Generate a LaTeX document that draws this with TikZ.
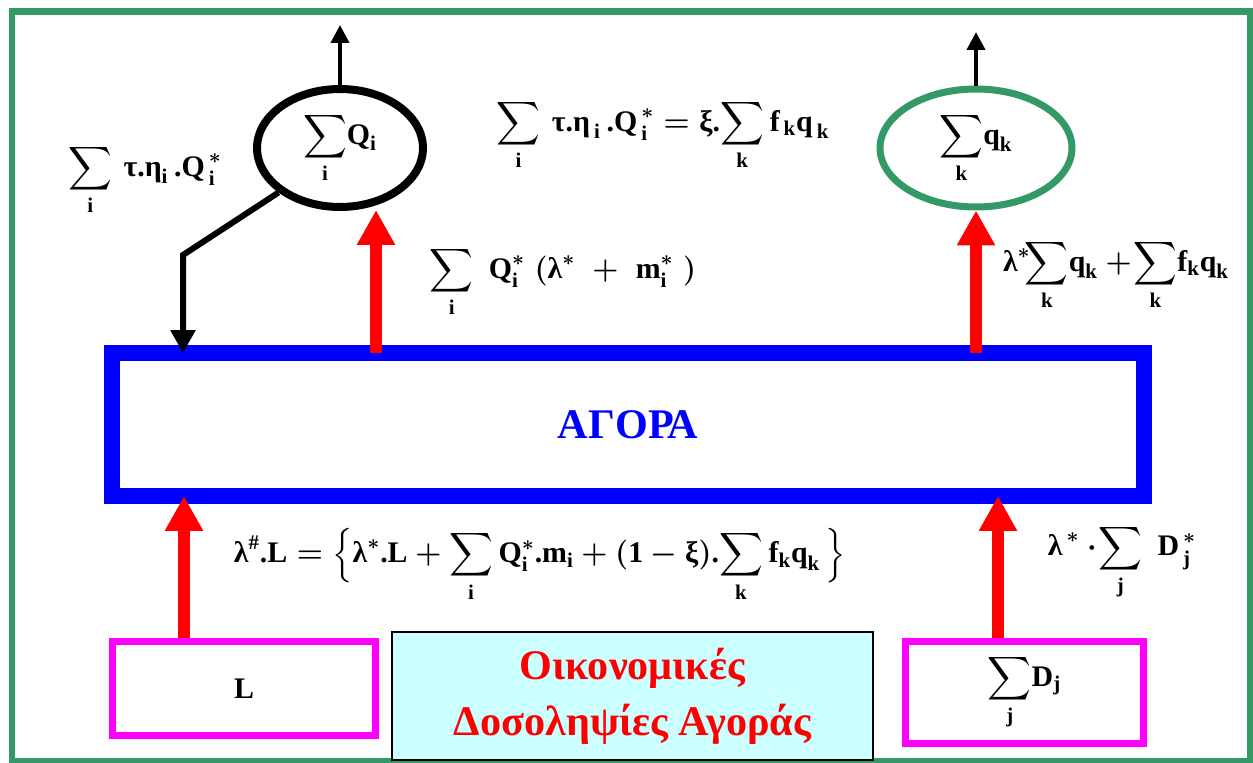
\documentclass[tikz,border=0pt]{standalone}
\usepackage{fix-cm}
\usepackage{amsmath}
\usepackage{fontspec}
\setmainfont{Liberation Serif}
\usetikzlibrary{arrows.meta,positioning,shapes.geometric,calc}
\definecolor{frame}{HTML}{339966}
\definecolor{market}{HTML}{0000FF}
\definecolor{source}{HTML}{FF00FF}
\definecolor{flow}{HTML}{FF0000}
\definecolor{panel}{HTML}{CCFFFF}
\newcommand{\bt}[1]{\text{#1}}

\begin{document}
\begin{tikzpicture}[x=0.02cm, y=-0.02cm,
  every node/.style={font=\fontsize{17}{20}\selectfont\bfseries\boldmath},
  marketbox/.style={draw=market, line width=0.32cm, outer sep=0pt, minimum width=20.64cm, minimum height=2.86cm},
  sumnode/.style={ellipse, line width=0.16cm, inner sep=0pt, minimum width=3.32cm, minimum height=2.36cm},
  sourcebox/.style={draw=source, line width=0.14cm, inner sep=0pt},
  flowarrow/.style={draw=flow, line width=0.24cm, -{Triangle[width=0.72cm,length=0.7cm]}},
  outarrow/.style={draw=black, line width=0.08cm, -{Triangle[width=0.36cm,length=0.36cm]}},
  taxarrow/.style={draw=black, line width=0.12cm, -{Triangle[width=0.48cm,length=0.46cm]}},
  formula/.style={inner sep=1pt}
]
\useasboundingbox (0,0) rectangle (1253,763);

% outer frame
\draw[draw=frame, line width=0.14cm] (12,12) rectangle (1250,761);

% market in the middle
\node[marketbox, font=\fontsize{24}{28}\selectfont\bfseries, text=market] (agora) at (628,424.5) {ΑΓΟΡΑ};

% the two sums on top
\node[sumnode, draw=black] (qi) at (340,148) {$\displaystyle\sum_{\bt{i}}\!\bt{Q}_{\bt{i}}$};
\node[sumnode, draw=frame, line width=0.14cm, minimum width=3.84cm] (qk) at (976,148) {$\displaystyle\sum_{\bt{k}}\!\bt{q}_{\bt{k}}$};

% the boxes at the bottom
\node[sourcebox, minimum width=5.28cm, minimum height=1.9cm] (lbox) at (244,688.5) {L};
\node[sourcebox, minimum width=4.78cm, minimum height=2.06cm] (dbox) at (1024.5,692.5) {$\displaystyle\sum_{\bt{j}}\!\bt{D}_{\bt{j}}$};
\node[draw=black, line width=0.04cm, fill=panel, minimum width=9.62cm, minimum height=2.56cm,
      align=center, text=flow, font=\fontsize{24}{32}\selectfont\bfseries] (deals) at (632.5,696)
      {Οικονομικές\\Δοσοληψίες Αγοράς};

% labels of the flows
\node[formula] (taxl) at (145,180) {$\displaystyle\sum_{\bt{i}}\,\bt{τ.η}_{\bt{i}}\,\bt{.Q}^{\,*}_{\,\bt{i}}$};
\node[formula] (balance) at (663,135) {$\displaystyle\sum_{\bt{i}}\,\bt{τ.η}_{\,\bt{i}}\,\bt{.Q}^{\,*}_{\,\bt{i}} = \bt{ξ.}\!\sum_{\bt{k}}\bt{f}_{\,\bt{k}}\bt{q}_{\,\bt{k}}$};
\node[formula] (qiflow) at (563,282) {$\displaystyle\sum_{\bt{i}}\;\bt{Q}^{*}_{\bt{i}}\;(\bt{λ}^{*}\;+\;\bt{m}^{*}_{\bt{i}}\;)$};
\node[formula] (qkflow) at (1116,275) {$\displaystyle\bt{λ}^{*}\!\!\sum_{\bt{k}}\!\bt{q}_{\bt{k}}+\!\sum_{\bt{k}}\!\bt{f}_{\bt{k}}\bt{q}_{\bt{k}}$};
\node[formula] (lflow) at (540,565) {$\displaystyle\bt{λ}^{\#}\bt{.L}=\Big\{\bt{λ}^{*}\bt{.L}+\sum_{\bt{i}}\bt{Q}^{*}_{\bt{i}}\bt{.m}_{\bt{i}}+(\bt{1}-\bt{ξ})\bt{.}\!\sum_{\bt{k}}\bt{f}_{\bt{k}}\bt{q}_{\bt{k}}\,\Big\}$};
\node[formula] (dflow) at (1122,562) {$\displaystyle\bt{λ}^{\,*}\cdot\!\sum_{\bt{j}}\;\bt{D}^{\,*}_{\,\bt{j}}$};

% connectors
\coordinate (qiout) at (340,25);
\coordinate (qkout) at (976,32);
\coordinate (qiin) at (376,210);
\coordinate (bend) at (183,255);
\coordinate (lin) at (184,640);
\coordinate (din) at (998,640);

\draw[outarrow] (qi.north) -- (qiout);
\draw[outarrow] (qk.north) -- (qkout);
\draw[flowarrow] (agora.north -| qiin) -- (qiin);
\draw[flowarrow] (agora.north -| qk.south) -- (qk.south);
\draw[taxarrow] (qi.south west) -- (bend) -- (bend |- agora.north);
\draw[flowarrow] (lbox.north -| lin) -- (agora.south -| lin);
\draw[flowarrow] (dbox.north -| din) -- (agora.south -| din);

\end{tikzpicture}
\end{document}
